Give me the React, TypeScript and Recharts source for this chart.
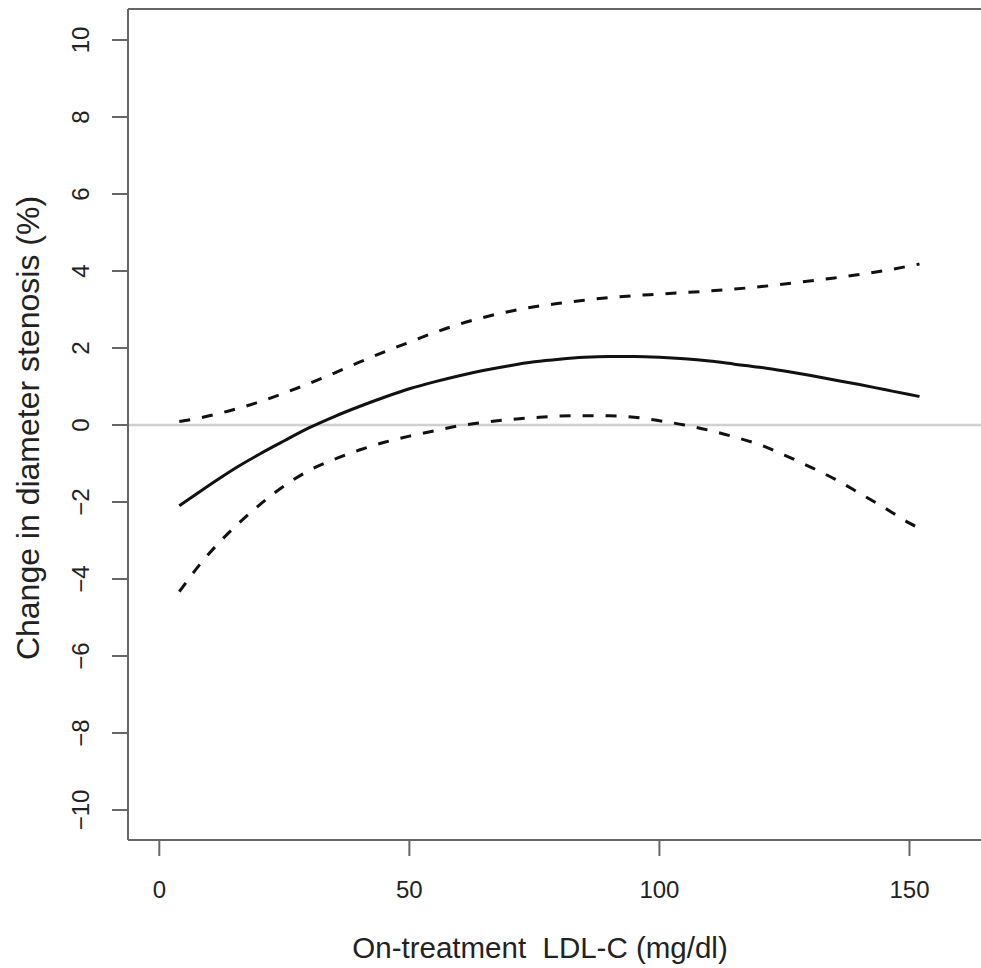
import React from "react";
import { LineChart, Line, XAxis, YAxis, ReferenceLine } from "recharts";

const ldl = [4, 8, 12, 16, 20, 25, 30, 35, 40, 45, 50, 55, 60, 65, 70, 75, 80, 85, 90, 95, 100, 105, 110, 115, 120, 125, 130, 135, 140, 145, 150, 152];
const estimate = [-2.1, -1.74, -1.39, -1.06, -0.76, -0.41, -0.07, 0.22, 0.48, 0.72, 0.94, 1.12, 1.28, 1.42, 1.54, 1.64, 1.71, 1.76, 1.78, 1.78, 1.76, 1.72, 1.66, 1.58, 1.5, 1.4, 1.29, 1.17, 1.05, 0.92, 0.79, 0.74];
const upper = [0.09, 0.18, 0.3, 0.44, 0.6, 0.83, 1.08, 1.35, 1.63, 1.9, 2.15, 2.4, 2.62, 2.8, 2.95, 3.07, 3.16, 3.24, 3.31, 3.36, 3.4, 3.44, 3.48, 3.53, 3.59, 3.66, 3.74, 3.82, 3.91, 4.01, 4.13, 4.18];
const lower = [-4.33, -3.64, -3.05, -2.54, -2.08, -1.58, -1.18, -0.89, -0.65, -0.45, -0.29, -0.15, -0.02, 0.07, 0.14, 0.19, 0.23, 0.24, 0.24, 0.2, 0.11, 0.0, -0.14, -0.31, -0.51, -0.78, -1.08, -1.4, -1.77, -2.15, -2.55, -2.68];

const xTicks = [0, 50, 100, 150];
const yTicks = [-10, -8, -6, -4, -2, 0, 2, 4, 6, 8, 10];
const xTitle = "On-treatment\u00A0\u00A0LDL-C (mg/dl)";
const yTitle = "Change in diameter stenosis (%)";

const data = ldl.map((x, i) => ({ x, est: estimate[i], up: upper[i], lo: lower[i] }));

const FONT = "'Liberation Sans', Arial, sans-serif";
const TEXT = "#222";
const AXIS = "#666";

const fmt = (v: number) => (v < 0 ? "\u2212" + Math.abs(v) : String(v));

const YTick = (props: any) => {
  const { x, y, payload } = props;
  return (
    <text
      x={x}
      y={y}
      transform={`rotate(-90, ${x}, ${y})`}
      textAnchor="middle"
      dominantBaseline="central"
      fontSize={24}
      fontFamily={FONT}
      fill={TEXT}
    >
      {fmt(payload.value)}
    </text>
  );
};

const XTick = (props: any) => {
  const { x, y, payload } = props;
  return (
    <text x={x} y={y} textAnchor="middle" dominantBaseline="central" fontSize={24} fontFamily={FONT} fill={TEXT}>
      {fmt(payload.value)}
    </text>
  );
};

export default function App() {
  return (
    <div style={{ position: "absolute", left: 0, top: 0, background: "#fff" }}>
      <LineChart width={981} height={968} data={data} margin={{ top: 0, right: 0, bottom: 0, left: 0 }}>
        <XAxis
          dataKey="x"
          type="number"
          domain={[-6.26, 164.3]}
          allowDataOverflow
          ticks={xTicks}
          interval={0}
          height={128}
          tickSize={16}
          tickMargin={33}
          tick={<XTick />}
          axisLine={{ stroke: AXIS, strokeWidth: 2 }}
          tickLine={{ stroke: AXIS, strokeWidth: 2 }}
          label={{
            content: () => (
              <text x={540} y={958} textAnchor="middle" fontSize={29.5} fontFamily={FONT} fill={TEXT}>
                {xTitle}
              </text>
            ),
          }}
        />
        <XAxis
          xAxisId="top"
          orientation="top"
          dataKey="x"
          type="number"
          domain={[-6.26, 164.3]}
          allowDataOverflow
          height={9}
          tick={false}
          tickLine={false}
          axisLine={{ stroke: AXIS, strokeWidth: 2 }}
        />
        <YAxis
          type="number"
          domain={[-10.78, 10.805]}
          allowDataOverflow
          ticks={yTicks}
          interval={0}
          width={128}
          tickSize={16}
          tickMargin={31}
          tick={<YTick />}
          axisLine={{ stroke: AXIS, strokeWidth: 2 }}
          tickLine={{ stroke: AXIS, strokeWidth: 2 }}
          label={{
            content: () => (
              <text
                x={28}
                y={428}
                transform="rotate(-90, 28, 428)"
                textAnchor="middle"
                dominantBaseline="central"
                fontSize={32}
                fontFamily={FONT}
                fill={TEXT}
              >
                {yTitle}
              </text>
            ),
          }}
        />
        <ReferenceLine y={0} stroke="#d0d0d0" strokeWidth={2.5} ifOverflow="hidden" />
        <Line dataKey="up" type="monotone" stroke="#111" strokeWidth={3} strokeDasharray="11 12" dot={false} isAnimationActive={false} />
        <Line dataKey="lo" type="monotone" stroke="#111" strokeWidth={3} strokeDasharray="11 12" dot={false} isAnimationActive={false} />
        <Line dataKey="est" type="monotone" stroke="#111" strokeWidth={3} dot={false} isAnimationActive={false} />
      </LineChart>
    </div>
  );
}
